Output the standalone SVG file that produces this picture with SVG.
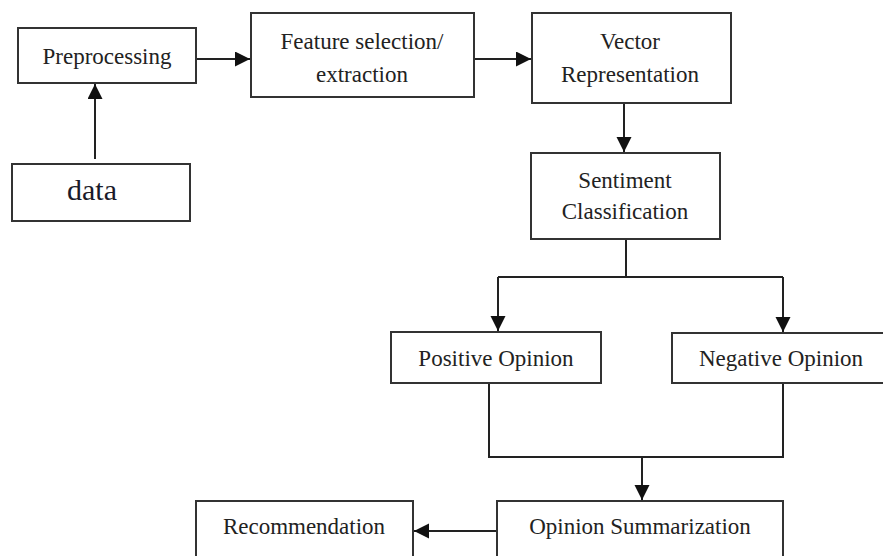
<svg xmlns="http://www.w3.org/2000/svg" width="883" height="556" viewBox="0 0 883 556">
  <defs>
    <style>
      .box { fill: #ffffff; stroke: #333333; stroke-width: 2; }
      .lbl { font-family: "Liberation Serif", "Times New Roman", serif; font-size: 23px; fill: #222222; text-anchor: middle; }
      .big { font-size: 30px; fill: #1a1a2a; }
      .edge { fill: none; stroke: #222222; stroke-width: 2; }
    </style>
    <marker id="arrow" markerUnits="userSpaceOnUse" markerWidth="16" markerHeight="16" refX="15" refY="7.5" orient="auto">
      <path d="M0,0 L15,7.5 L0,15 z" fill="#111111"/>
    </marker>
  </defs>
  <rect width="883" height="556" fill="#ffffff"/>

  <g id="preprocessing">
    <rect class="box" x="18" y="28" width="178" height="55"/>
    <text class="lbl" x="107" y="64">Preprocessing</text>
  </g>
  <g id="data">
    <rect class="box" x="12" y="164" width="178" height="57"/>
    <text class="lbl big" x="92" y="200">data</text>
  </g>
  <g id="feature">
    <rect class="box" x="251" y="13" width="223" height="84"/>
    <text class="lbl" x="362" y="49">Feature selection/</text>
    <text class="lbl" x="362" y="82">extraction</text>
  </g>
  <g id="vector">
    <rect class="box" x="532" y="13" width="199" height="90"/>
    <text class="lbl" x="630" y="49">Vector</text>
    <text class="lbl" x="630" y="82">Representation</text>
  </g>
  <g id="sentiment">
    <rect class="box" x="531" y="153" width="189" height="86"/>
    <text class="lbl" x="625" y="188">Sentiment</text>
    <text class="lbl" x="625" y="219">Classification</text>
  </g>
  <g id="positive">
    <rect class="box" x="391" y="332" width="210" height="51"/>
    <text class="lbl" x="496" y="366">Positive Opinion</text>
  </g>
  <g id="negative">
    <rect class="box" x="672" y="333" width="223" height="50"/>
    <text class="lbl" x="781" y="366">Negative Opinion</text>
  </g>
  <g id="recommendation">
    <rect class="box" x="196" y="501" width="217" height="60"/>
    <text class="lbl" x="304" y="534">Recommendation</text>
  </g>
  <g id="summarization">
    <rect class="box" x="497" y="501" width="286" height="60"/>
    <text class="lbl" x="640" y="534">Opinion Summarization</text>
  </g>

  <g id="connectors">
    <path class="edge" d="M95,159 L95,84" marker-end="url(#arrow)"/>
    <path class="edge" d="M197,59 L250,59" marker-end="url(#arrow)"/>
    <path class="edge" d="M475,59 L531,59" marker-end="url(#arrow)"/>
    <path class="edge" d="M624,104 L624,152" marker-end="url(#arrow)"/>
    <path class="edge" d="M626,240 L626,277"/>
    <path class="edge" d="M498,277 L783,277"/>
    <path class="edge" d="M498,277 L498,331" marker-end="url(#arrow)"/>
    <path class="edge" d="M783,277 L783,332" marker-end="url(#arrow)"/>
    <path class="edge" d="M489,384 L489,457 L783,457 L783,384"/>
    <path class="edge" d="M642,457 L642,500" marker-end="url(#arrow)"/>
    <path class="edge" d="M496,531 L414,531" marker-end="url(#arrow)"/>
  </g>
</svg>
